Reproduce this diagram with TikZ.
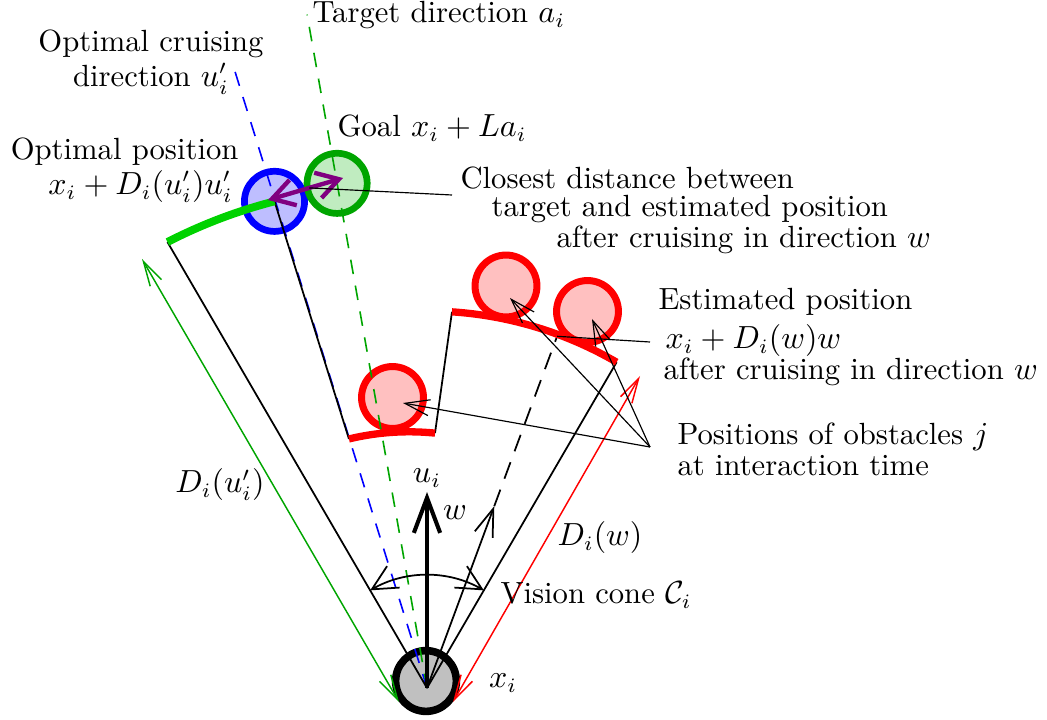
\documentclass[tikz,border=0pt]{standalone}
\usetikzlibrary{arrows.meta,calc}
\definecolor{cgreen}{RGB}{0,165,0}
\definecolor{carc}{RGB}{0,210,0}
\definecolor{cgreenfill}{RGB}{192,236,192}
\definecolor{cbluefill}{RGB}{190,190,255}
\definecolor{credfill}{RGB}{255,192,192}
\definecolor{cgrayfill}{RGB}{192,192,192}
\definecolor{cpurple}{RGB}{128,0,128}
\begin{document}
\begin{tikzpicture}[x=0.3425pt,y=0.3425pt,
  lbl/.style={inner sep=0pt, font=\fontsize{10.5}{12}\selectfont},
  ray/.style={line width=0.6pt},
  conn/.style={line width=0.4pt},
  ring/.style={circle, inner sep=0pt, minimum size=#1},
  obst/.style={ring=21.2pt, draw=red, fill=credfill, line width=2.4pt},
  thickarc/.style={line width=2.5pt},
  dimarrow/.style={line width=0.5pt, {Straight Barb[length=8.5pt,width=4.5pt]}-{Straight Barb[length=8.5pt,width=4.5pt]}},
  pointer/.style={conn, -{Straight Barb[length=8.5pt,width=5.5pt]}}
]
\useasboundingbox (0,0) rectangle (1047,720);
\coordinate (O) at (427,32);
\begin{scope}[shift={(O)}]
  \coordinate (L) at (120.2:516);
  \coordinate (Bc) at (107.4:510);
  \coordinate (Gc) at (100.1:512.6);
  \coordinate (J1) at (107.4:261);
  \coordinate (J2) at (88.2:255);
  \coordinate (J3) at (86.2:377);
  \coordinate (R) at (59.8:377);
  \coordinate (Wt) at (69.7:194);
  \coordinate (We) at (69.7:375);
  \coordinate (Ut) at (90:196);
  \coordinate (BlueTop) at (107.3:649);
  \coordinate (GreenTop) at (100.1:684);
  \coordinate (VL) at (120.2:113);
  \coordinate (VR) at (59.8:113);
\end{scope}

% circles
\node[ring=20.8pt, draw=black, fill=cgrayfill, line width=2.6pt] (agent) at (426,39) {};
\node[ring=20.6pt, draw=blue, fill=cbluefill, line width=2.3pt] (optpos) at (Bc) {};
\node[ring=20.6pt, draw=cgreen, fill=cgreenfill, line width=2.3pt] (goalpos) at (Gc) {};
\node[obst] (ob1) at (392.5,322.5) {};
\node[obst] (ob2) at (506,434) {};
\node[obst] (ob3) at (587.5,408.5) {};

% dashed directions
\draw[blue, line width=0.55pt, dash pattern=on 5pt off 4pt] (O) -- (BlueTop);
\draw[cgreen, line width=0.55pt, dash pattern=on 5pt off 4pt] (O) -- (GreenTop);
\draw[line width=0.6pt, dash pattern=on 6pt off 4pt] (Wt) -- (We);

% distance function contour
\draw[ray] (O) -- (L);
\draw[ray] (O) -- (R);
\draw[ray] (Bc) -- (J1);
\draw[ray] (J2) -- (J3);
\begin{scope}[shift={(O)}]
  \draw[carc, line width=2.7pt] plot[domain=120.2:107.4, samples=30, variable=\t] (\t:{510+(\t-107.4)*0.46875});
  \draw[red, thickarc] plot[domain=107.4:88.2, samples=30, variable=\t] (\t:{255+(\t-88.2)*0.3125});
\end{scope}
\draw[red, thickarc] (J3) arc[start angle=86.2, end angle=59.8, radius=377];

% vision cone arc
\draw[line width=0.6pt, {Straight Barb[length=8.5pt,width=8.5pt]}-{Straight Barb[length=8.5pt,width=8.5pt]}] (VL) arc[start angle=120.2, end angle=59.8, radius=113];

% direction arrows
\draw[line width=1.4pt, -{Straight Barb[length=12pt,width=9pt]}] (O) -- (Ut);
\draw[line width=0.6pt, -{Straight Barb[length=9.5pt,width=6.5pt]}] (O) -- (Wt);

% dimension arrows
\coordinate (GA) at (142,461);
\coordinate (GB) at (399,18);
\coordinate (RA) at (453,18);
\coordinate (RB) at (640,344);
\draw[cgreen, dimarrow] (GA) -- (GB);
\draw[red, dimarrow] (RA) -- (RB);

% purple closest-distance arrow
\coordinate (P1) at (268,520);
\coordinate (P2) at (343,542);
\draw[cpurple, line width=1.5pt, {Straight Barb[length=7.5pt,width=9pt]}-{Straight Barb[length=7.5pt,width=9pt]}] (P1) -- (P2);

% labels
\node[lbl, anchor=west] (tdir) at (312,705) {Target direction $a_i$};
\node[lbl, align=center] (optc) at (151,658) {Optimal cruising\\direction $u'_i$};
\node[lbl, anchor=west] (goal) at (337,592) {Goal $x_i+La_i$};
\node[lbl, align=right, anchor=east] (optp) at (239,550) {Optimal position\\$x_i+D_i(u'_i)u'_i$\hspace*{2pt}};
\node[lbl, anchor=west] (cl1) at (460,542) {Closest distance between};
\node[lbl, anchor=west] (cl2) at (491,511) {target and estimated position};
\node[lbl, anchor=west] (cl3) at (556,480) {after cruising in direction $w$};
\node[lbl, anchor=west] (es1) at (658,418) {Estimated position};
\node[lbl, anchor=west] (es2) at (665,379) {$x_i+D_i(w)w$};
\node[lbl, anchor=west] (es3) at (663,348) {after cruising in direction $w$};
\node[lbl, anchor=west] (po1) at (677,283) {Positions of obstacles $j$};
\node[lbl, anchor=west] (po2) at (677,254) {at interaction time};
\node[lbl] (dw) at (600,182) {$D_i(w)$};
\node[lbl, anchor=west] (vc) at (500,125) {Vision cone $\mathcal{C}_i$};
\node[lbl] (xi) at (503,37) {$x_i$};
\node[lbl] (du) at (220,235) {$D_i(u'_i)$};
\node[lbl] (ui) at (427,242) {$u_i$};
\node[lbl] (wl) at (455,207) {$w$};

% connectors
\coordinate (Pm) at ($(P1)!0.55!(P2)$);
\coordinate (Cc) at (452,525);
\draw[conn] (Pm) -- (Cc);
\coordinate (Ec) at (650,378);
\draw[conn] (Ec) -- (We);
\coordinate (Pc) at (650,273);
\coordinate (T1) at (403,317);
\coordinate (T2) at (510,422);
\coordinate (T3) at (592,401);
\draw[pointer] (Pc) -- (T1);
\draw[pointer] (Pc) -- (T2);
\draw[pointer] (Pc) -- (T3);
\end{tikzpicture}
\end{document}
